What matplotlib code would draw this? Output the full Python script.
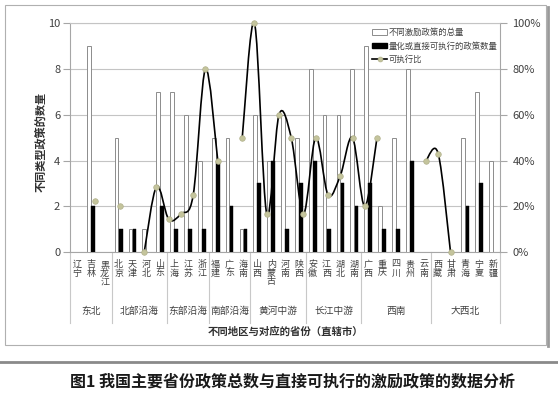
import numpy as np
import matplotlib
matplotlib.use("Agg")
import matplotlib.pyplot as plt
from matplotlib.path import Path
from matplotlib.patches import PathPatch, Rectangle
from matplotlib.lines import Line2D
from matplotlib.ticker import PercentFormatter
import matplotlib.transforms as mtransforms

plt.rcParams['font.family'] = ['Noto Sans CJK SC', 'DejaVu Sans']

# data
provinces = ['辽宁', '吉林', '黑龙江', '北京', '天津', '河北', '山东', '上海', '江苏', '浙江',
             '福建', '广东', '海南', '山西', '内蒙古', '河南', '陕西', '安徽', '江西', '湖北',
             '湖南', '广西', '重庆', '四川', '贵州', '云南', '西藏', '甘肃', '青海', '宁夏', '新疆']
total_policies = [0, 9, 0, 5, 1, 1, 7, 7, 6, 4, 5, 5, 1, 6, 4, 6, 5, 8, 6, 6,
                  8, 9, 2, 5, 8, 0, 0, 0, 5, 7, 4]
exec_policies = [0, 2, 0, 1, 1, 0, 2, 1, 1, 1, 4, 2, 1, 3, 4, 1, 3, 4, 1, 3,
                 2, 3, 1, 1, 4, 0, 0, 0, 2, 3, 0]
nan = np.nan
exec_ratio = [nan, 22.2, nan, 20, nan, 0, 28.6, 14.3, 16.7, 25, 80, 40, nan, 50, 100, 16.7,
              60, 50, 16.7, 50, 25, 33.3, 50, 20, 50, nan, nan, nan, 40, 42.9, 0]
region_names = ['东北', '北部沿海', '东部沿海', '南部沿海', '黄河中游', '长江中游', '西南', '大西北']
region_sizes = [3, 4, 3, 3, 4, 4, 5, 5]

legend_labels = ['不同激励政策的总量', '量化或直接可执行的政策数量', '可执行比']

W, H = 558, 398
fig = plt.figure(figsize=(W / 100, H / 100), dpi=100)


def fx(px):
    return px / W


def fy(py):
    return 1 - py / H


grid_col = '#c4c4c4'
axis_col = '#a6a6a6'
text_col = '#404040'
dot_col = '#c4c49c'

# outer frame with a little shadow
fig.patches.append(Rectangle((fx(5), fy(345)), fx(541), 340 / H, transform=fig.transFigure,
                             fill=False, edgecolor='#b0b0b0', lw=0.8))
fig.lines.append(Line2D([fx(547.5), fx(547.5)], [fy(7), fy(346)], transform=fig.transFigure,
                        color='#9a9a9a', lw=2))
fig.lines.append(Line2D([fx(0), fx(558)], [fy(362), fy(362)], transform=fig.transFigure,
                        color='#8a8a8a', lw=2))

pos = [fx(70), fy(252), fx(500) - fx(70), fy(23.3) - fy(252)]
ax = fig.add_axes(pos)
n = len(provinces)
x = np.arange(n)
tot = np.array(total_policies)
exe = np.array(exec_policies)
bw = 0.27
ax.bar(x[tot > 0] - 0.145, tot[tot > 0], width=bw, color='white', edgecolor='#8c8c8c',
       lw=0.7, zorder=3)
ax.bar(x[exe > 0] + 0.15, exe[exe > 0], width=bw, color='black', edgecolor='black',
       lw=0.3, zorder=3)
ax.set_xlim(-0.5, n - 0.5)
ax.set_ylim(0, 10)
ax.set_yticks([0, 2, 4, 6, 8, 10])
ax.set_xticks([])
ax.yaxis.grid(True, color=grid_col, lw=0.8, zorder=0)
ax.set_axisbelow(True)
for s in ax.spines.values():
    s.set_color(axis_col)
    s.set_linewidth(0.8)
ax.spines['top'].set_color(grid_col)
ax.tick_params(axis='y', length=5, width=0.8, color=axis_col, labelsize=8, labelcolor=text_col, pad=2)

# province labels (stacked vertical characters)
trans = mtransforms.blended_transform_factory(ax.transData, ax.transAxes)
for i, name in enumerate(provinces):
    ax.text(i, -0.035, '\n'.join(name), transform=trans, ha='center', va='top',
            fontsize=6.5, linespacing=0.95, color=text_col)

# region separators and labels
edges = np.concatenate([[0], np.cumsum(region_sizes)]) - 0.5
for e in edges:
    ax.plot([e, e], [0, -0.31], transform=trans, color='#c8c8c8', lw=0.8, clip_on=False)
for k, name in enumerate(region_names):
    ax.text((edges[k] + edges[k + 1]) / 2, -0.258, name, transform=trans, ha='center',
            va='center', fontsize=7, color=text_col)

# secondary axes for the ratio line (its categories are spaced differently, like the original)
ax2 = fig.add_axes(pos, frameon=False)
ax2.patch.set_alpha(0)
ax2.set_xlim(-1.06, 34.04)
ax2.set_ylim(0, 100)
ax2.set_xticks([])
ax2.yaxis.tick_right()
ax2.set_yticks([0, 20, 40, 60, 80, 100])
ax2.yaxis.set_major_formatter(PercentFormatter(100, decimals=0))
ax2.tick_params(axis='y', length=5, width=0.8, color=axis_col, labelsize=8, labelcolor=text_col, pad=4)

r = np.array(exec_ratio, dtype=float)
valid = ~np.isnan(r)
# split into runs of consecutive values, draw each as a smooth curve
runs = []
cur = []
for i in range(n):
    if valid[i]:
        cur.append(i)
    else:
        if cur:
            runs.append(cur)
        cur = []
if cur:
    runs.append(cur)

for run in runs:
    if len(run) < 2:
        continue
    pts = np.column_stack([np.array(run, dtype=float), r[run]])
    verts = [pts[0]]
    codes = [Path.MOVETO]
    m = len(pts)
    for k in range(m - 1):
        p0 = pts[k - 1] if k > 0 else pts[k]
        p1 = pts[k]
        p2 = pts[k + 1]
        p3 = pts[k + 2] if k + 2 < m else pts[k + 1]
        c1 = p1 + (p2 - p0) / 6
        c2 = p2 - (p3 - p1) / 6
        verts += [c1, c2, p2]
        codes += [Path.CURVE4] * 3
    ax2.add_patch(PathPatch(Path(verts, codes), fill=False, edgecolor='black', lw=1.2,
                            zorder=4, clip_on=False))

ax2.plot(x[valid], r[valid], ls='none', marker='o', markersize=4, markerfacecolor=dot_col,
         markeredgecolor='#b0b08a', markeredgewidth=0.5, zorder=5, clip_on=False)

handles = [Rectangle((0, 0), 1, 1, facecolor='white', edgecolor='#8c8c8c', lw=0.7),
           Rectangle((0, 0), 1, 1, facecolor='black', edgecolor='black'),
           Line2D([], [], color='black', lw=1.2, marker='o', markersize=3.5,
                  markerfacecolor=dot_col, markeredgecolor='#b0b08a', markeredgewidth=0.5)]
leg = fig.legend(handles, legend_labels, loc='upper left', bbox_to_anchor=(fx(372), fy(28)),
                 frameon=False, fontsize=6, handlelength=1.8, handleheight=0.6,
                 handletextpad=0.2, labelspacing=0.55, borderpad=0, borderaxespad=0)
for t in leg.get_texts():
    t.set_color(text_col)

fig.text(fx(42), fy(142), '不同类型政策的数量', rotation=90, ha='center', va='center',
         fontsize=8, fontweight='bold', color='#303030')
fig.text(fx(285), fy(332), '不同地区与对应的省份（直辖市）', ha='center', va='center',
         fontsize=7.5, fontweight='bold', color='#303030')
fig.text(fx(293), fy(381), '图1 我国主要省份政策总数与直接可执行的激励政策的数据分析',
         ha='center', va='center', fontsize=11.5, fontweight='bold', color='#1a1a1a')

fig.savefig('out.png', dpi=100)
